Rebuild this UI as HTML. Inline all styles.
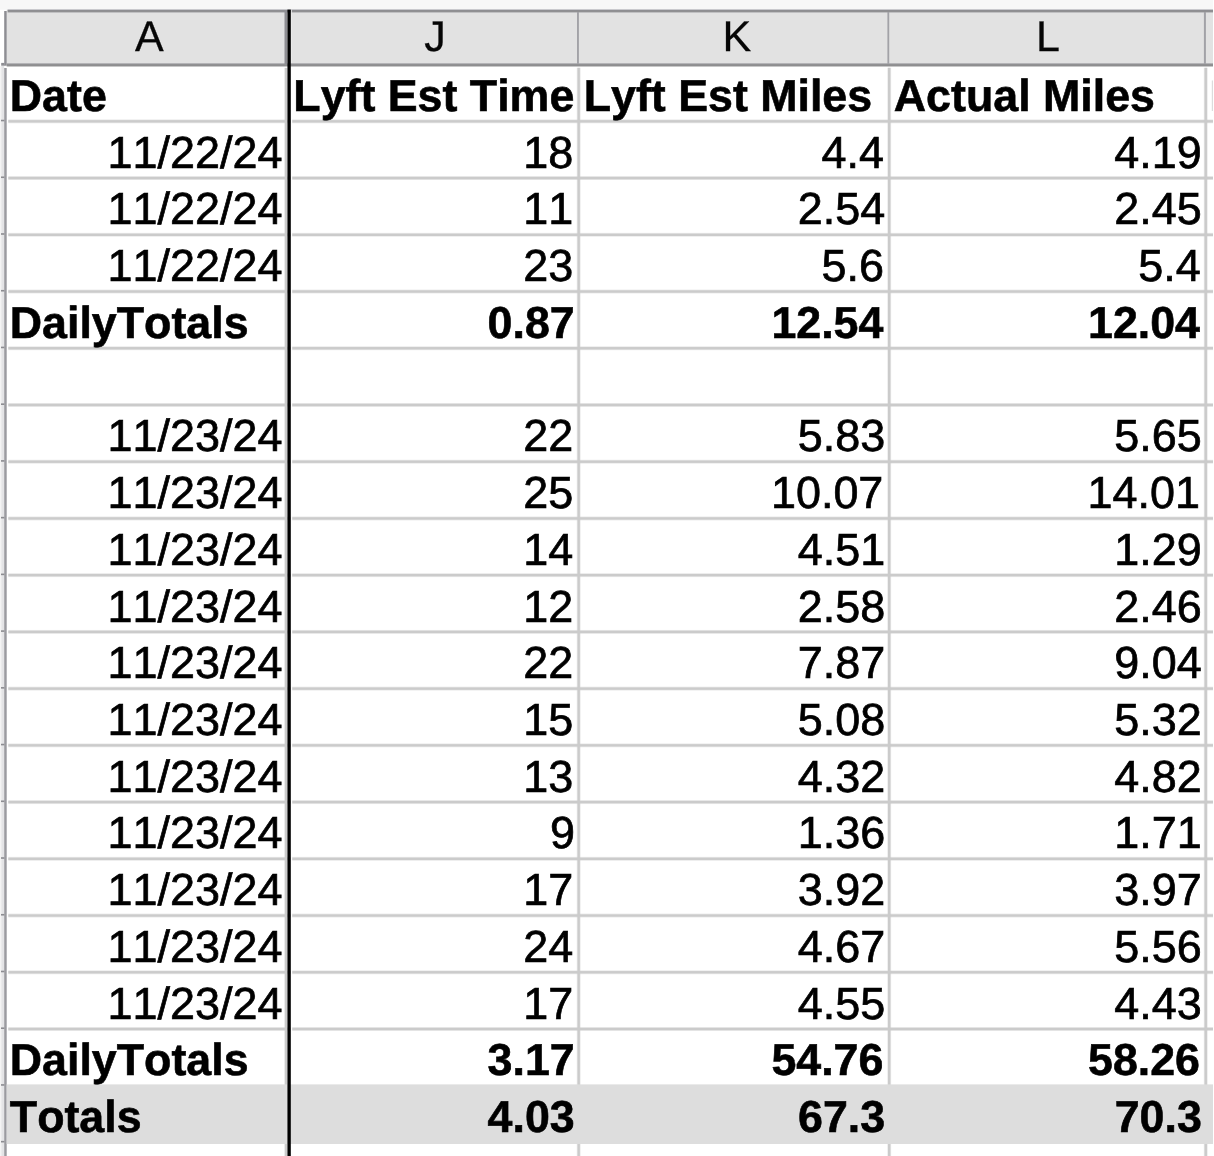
<!DOCTYPE html>
<html lang="en">
<head>
<meta charset="utf-8">
<title>Sheet</title>
<style>
html,body{margin:0;padding:0;}
body{width:1214px;height:1156px;overflow:hidden;background:#fff;position:relative;
 font-family:"Liberation Sans",Arial,sans-serif;color:#000;text-rendering:geometricPrecision;font-kerning:none;}
.abs,.abs *{position:absolute;}
.abs{left:0;top:0;width:1214px;height:1156px;overflow:hidden;}
.c{white-space:nowrap;font-size:44.95px;line-height:44.95px;height:44.95px;}
.c{-webkit-text-stroke:0.7px #000;}
.b{font-weight:bold;font-size:44.75px;-webkit-text-stroke:0.6px #000;}
.r{text-align:right;}
.hl{font-size:43.0px;line-height:43.0px;height:43.0px;white-space:nowrap;color:#060606;-webkit-text-stroke:0.3px #060606;}
.g{background:#cbcbcb;}
</style>
</head>
<body>
<div class="abs">
<svg width="1214" height="1156" viewBox="0 0 1214 1156" style="left:0;top:0;" shape-rendering="geometricPrecision">
<rect x="0.00" y="0.00" width="1214.00" height="9.70" fill="#f7f7f7"/>
<rect x="6.70" y="9.70" width="1206.30" height="56.80" fill="#e2e2e2"/>
<rect x="7.60" y="9.00" width="1205.40" height="1.00" fill="#c9c9cd"/>
<rect x="7.60" y="10.00" width="1205.40" height="1.00" fill="#8e8e92"/>
<rect x="7.60" y="11.00" width="1205.40" height="1.00" fill="#909092"/>
<rect x="7.60" y="12.00" width="1205.40" height="1.00" fill="#c0c0c2"/>
<rect x="6.70" y="63.00" width="1206.30" height="1.00" fill="#b4b4b7"/>
<rect x="6.70" y="64.00" width="1206.30" height="1.00" fill="#919193"/>
<rect x="6.70" y="65.00" width="1206.30" height="1.00" fill="#8e8e90"/>
<rect x="6.70" y="66.00" width="1206.30" height="1.00" fill="#c8c8c8"/>
<rect x="0.00" y="66.00" width="4.20" height="1090.00" fill="#e4e4e6"/>
<rect x="0.00" y="66.00" width="1.40" height="1090.00" fill="#f4f4f4"/>
<rect x="4.20" y="11.00" width="2.50" height="54.70" fill="#8e8e93"/>
<rect x="4.20" y="68.00" width="2.50" height="1088.00" fill="#9b9ba0"/>
<rect x="1.20" y="62.90" width="3.30" height="2.80" fill="#8e8e93"/>
<rect x="284.50" y="11.00" width="2.70" height="53.00" fill="#8e8e93"/>
<rect x="577.00" y="12.00" width="1.90" height="52.00" fill="#a2a2a7"/>
<rect x="887.40" y="12.00" width="1.80" height="52.00" fill="#a2a2a7"/>
<rect x="1203.90" y="12.00" width="2.00" height="52.00" fill="#a2a2a7"/>
<rect x="8.30" y="119.38" width="1205.70" height="3.90" fill="#cbcbcb" opacity="0.4"/>
<rect x="8.30" y="120.13" width="1205.70" height="2.40" fill="#cbcbcb"/>
<rect x="8.30" y="176.11" width="1205.70" height="3.90" fill="#cbcbcb" opacity="0.4"/>
<rect x="8.30" y="176.86" width="1205.70" height="2.40" fill="#cbcbcb"/>
<rect x="8.30" y="232.84" width="1205.70" height="3.90" fill="#cbcbcb" opacity="0.4"/>
<rect x="8.30" y="233.59" width="1205.70" height="2.40" fill="#cbcbcb"/>
<rect x="8.30" y="289.57" width="1205.70" height="3.90" fill="#cbcbcb" opacity="0.4"/>
<rect x="8.30" y="290.32" width="1205.70" height="2.40" fill="#cbcbcb"/>
<rect x="8.30" y="346.30" width="1205.70" height="3.90" fill="#cbcbcb" opacity="0.4"/>
<rect x="8.30" y="347.05" width="1205.70" height="2.40" fill="#cbcbcb"/>
<rect x="8.30" y="403.03" width="1205.70" height="3.90" fill="#cbcbcb" opacity="0.4"/>
<rect x="8.30" y="403.78" width="1205.70" height="2.40" fill="#cbcbcb"/>
<rect x="8.30" y="459.76" width="1205.70" height="3.90" fill="#cbcbcb" opacity="0.4"/>
<rect x="8.30" y="460.51" width="1205.70" height="2.40" fill="#cbcbcb"/>
<rect x="8.30" y="516.49" width="1205.70" height="3.90" fill="#cbcbcb" opacity="0.4"/>
<rect x="8.30" y="517.24" width="1205.70" height="2.40" fill="#cbcbcb"/>
<rect x="8.30" y="573.22" width="1205.70" height="3.90" fill="#cbcbcb" opacity="0.4"/>
<rect x="8.30" y="573.97" width="1205.70" height="2.40" fill="#cbcbcb"/>
<rect x="8.30" y="629.95" width="1205.70" height="3.90" fill="#cbcbcb" opacity="0.4"/>
<rect x="8.30" y="630.70" width="1205.70" height="2.40" fill="#cbcbcb"/>
<rect x="8.30" y="686.68" width="1205.70" height="3.90" fill="#cbcbcb" opacity="0.4"/>
<rect x="8.30" y="687.43" width="1205.70" height="2.40" fill="#cbcbcb"/>
<rect x="8.30" y="743.41" width="1205.70" height="3.90" fill="#cbcbcb" opacity="0.4"/>
<rect x="8.30" y="744.16" width="1205.70" height="2.40" fill="#cbcbcb"/>
<rect x="8.30" y="800.14" width="1205.70" height="3.90" fill="#cbcbcb" opacity="0.4"/>
<rect x="8.30" y="800.89" width="1205.70" height="2.40" fill="#cbcbcb"/>
<rect x="8.30" y="856.87" width="1205.70" height="3.90" fill="#cbcbcb" opacity="0.4"/>
<rect x="8.30" y="857.62" width="1205.70" height="2.40" fill="#cbcbcb"/>
<rect x="8.30" y="913.60" width="1205.70" height="3.90" fill="#cbcbcb" opacity="0.4"/>
<rect x="8.30" y="914.35" width="1205.70" height="2.40" fill="#cbcbcb"/>
<rect x="8.30" y="970.33" width="1205.70" height="3.90" fill="#cbcbcb" opacity="0.4"/>
<rect x="8.30" y="971.08" width="1205.70" height="2.40" fill="#cbcbcb"/>
<rect x="8.30" y="1027.06" width="1205.70" height="3.90" fill="#cbcbcb" opacity="0.4"/>
<rect x="8.30" y="1027.81" width="1205.70" height="2.40" fill="#cbcbcb"/>
<rect x="284.63" y="67.80" width="2.87" height="1088.20" fill="#cbcbcb"/>
<rect x="576.73" y="67.80" width="3.90" height="1088.20" fill="#cbcbcb" opacity="0.4"/>
<rect x="577.48" y="67.80" width="2.40" height="1088.20" fill="#cbcbcb"/>
<rect x="887.25" y="67.80" width="3.90" height="1088.20" fill="#cbcbcb" opacity="0.4"/>
<rect x="888.00" y="67.80" width="2.40" height="1088.20" fill="#cbcbcb"/>
<rect x="1203.80" y="67.80" width="3.90" height="1088.20" fill="#cbcbcb" opacity="0.4"/>
<rect x="1204.55" y="67.80" width="2.40" height="1088.20" fill="#cbcbcb"/>
<rect x="290.80" y="67.00" width="1.40" height="1089.00" fill="#fff"/>
<rect x="6.70" y="1084.39" width="1207.30" height="59.63" fill="#dddddd"/>
<rect x="1.00" y="119.73" width="3.40" height="1.60" fill="#8c8c91"/>
<rect x="1.00" y="176.46" width="3.40" height="1.60" fill="#8c8c91"/>
<rect x="1.00" y="233.19" width="3.40" height="1.60" fill="#8c8c91"/>
<rect x="1.00" y="289.92" width="3.40" height="1.60" fill="#8c8c91"/>
<rect x="1.00" y="346.65" width="3.40" height="1.60" fill="#8c8c91"/>
<rect x="1.00" y="403.38" width="3.40" height="1.60" fill="#8c8c91"/>
<rect x="1.00" y="460.11" width="3.40" height="1.60" fill="#8c8c91"/>
<rect x="1.00" y="516.84" width="3.40" height="1.60" fill="#8c8c91"/>
<rect x="1.00" y="573.57" width="3.40" height="1.60" fill="#8c8c91"/>
<rect x="1.00" y="630.30" width="3.40" height="1.60" fill="#8c8c91"/>
<rect x="1.00" y="687.03" width="3.40" height="1.60" fill="#8c8c91"/>
<rect x="1.00" y="743.76" width="3.40" height="1.60" fill="#8c8c91"/>
<rect x="1.00" y="800.49" width="3.40" height="1.60" fill="#8c8c91"/>
<rect x="1.00" y="857.22" width="3.40" height="1.60" fill="#8c8c91"/>
<rect x="1.00" y="913.95" width="3.40" height="1.60" fill="#8c8c91"/>
<rect x="1.00" y="970.68" width="3.40" height="1.60" fill="#8c8c91"/>
<rect x="1.00" y="1027.41" width="3.40" height="1.60" fill="#8c8c91"/>
<rect x="1.00" y="1084.14" width="3.40" height="1.60" fill="#8c8c91"/>
<rect x="1.00" y="1140.87" width="3.40" height="1.60" fill="#8c8c91"/>
<rect x="290.80" y="9.70" width="1.00" height="53.20" fill="#ececec"/>
<rect x="287.45" y="9.60" width="3.35" height="1146.40" fill="#000"/>
<rect x="1211.80" y="80.50" width="1.20" height="30.50" fill="#dcdcdc"/>
<rect x="1213.00" y="0.00" width="1.00" height="1156.00" fill="#fff"/>
</svg>
<div class="hl" style="left:135.02px;top:13px;line-height:48px;height:48px;">A</div>
<div class="hl" style="left:424.33px;top:13px;line-height:48px;height:48px;">J</div>
<div class="hl" style="left:722.47px;top:13px;line-height:48px;height:48px;">K</div>
<div class="hl" style="left:1036.07px;top:13px;line-height:48px;height:48px;">L</div>
<div class="c b" style="left:9.80px;top:71px;line-height:51px;height:51px;">Date</div>
<div class="c b" style="left:293.30px;top:71px;line-height:51px;height:51px;">Lyft Est Time</div>
<div class="c b" style="left:583.70px;top:71px;line-height:51px;height:51px;">Lyft Est Miles</div>
<div class="c b" style="left:893.80px;top:71px;line-height:51px;height:51px;">Actual Miles</div>
<div class="c r" style="left:9.80px;width:272.70px;top:127px;line-height:51px;height:51px;">11/22/24</div>
<div class="c r" style="left:293.30px;width:279.90px;top:127px;line-height:51px;height:51px;">18</div>
<div class="c r" style="left:583.70px;width:300.40px;top:127px;line-height:51px;height:51px;">4.4</div>
<div class="c r" style="left:893.80px;width:308.00px;top:127px;line-height:51px;height:51px;">4.19</div>
<div class="c r" style="left:9.80px;width:272.70px;top:183px;line-height:51px;height:51px;">11/22/24</div>
<div class="c r" style="left:293.30px;width:279.90px;top:183px;line-height:51px;height:51px;">11</div>
<div class="c r" style="left:583.70px;width:301.50px;top:183px;line-height:51px;height:51px;">2.54</div>
<div class="c r" style="left:893.80px;width:308.00px;top:183px;line-height:51px;height:51px;">2.45</div>
<div class="c r" style="left:9.80px;width:272.70px;top:240px;line-height:51px;height:51px;">11/22/24</div>
<div class="c r" style="left:293.30px;width:279.90px;top:240px;line-height:51px;height:51px;">23</div>
<div class="c r" style="left:583.70px;width:300.40px;top:240px;line-height:51px;height:51px;">5.6</div>
<div class="c r" style="left:893.80px;width:306.90px;top:240px;line-height:51px;height:51px;">5.4</div>
<div class="c b" style="left:9.80px;top:298px;line-height:51px;height:51px;">DailyTotals</div>
<div class="c b r" style="left:293.30px;width:281.40px;top:298px;line-height:51px;height:51px;">0.87</div>
<div class="c b r" style="left:583.70px;width:299.70px;top:298px;line-height:51px;height:51px;">12.54</div>
<div class="c b r" style="left:893.80px;width:306.20px;top:298px;line-height:51px;height:51px;">12.04</div>
<div class="c r" style="left:9.80px;width:272.70px;top:410px;line-height:51px;height:51px;">11/23/24</div>
<div class="c r" style="left:293.30px;width:279.90px;top:410px;line-height:51px;height:51px;">22</div>
<div class="c r" style="left:583.70px;width:301.50px;top:410px;line-height:51px;height:51px;">5.83</div>
<div class="c r" style="left:893.80px;width:308.00px;top:410px;line-height:51px;height:51px;">5.65</div>
<div class="c r" style="left:9.80px;width:272.70px;top:467px;line-height:51px;height:51px;">11/23/24</div>
<div class="c r" style="left:293.30px;width:279.90px;top:467px;line-height:51px;height:51px;">25</div>
<div class="c r" style="left:583.70px;width:299.70px;top:467px;line-height:51px;height:51px;">10.07</div>
<div class="c r" style="left:893.80px;width:306.20px;top:467px;line-height:51px;height:51px;">14.01</div>
<div class="c r" style="left:9.80px;width:272.70px;top:524px;line-height:51px;height:51px;">11/23/24</div>
<div class="c r" style="left:293.30px;width:279.90px;top:524px;line-height:51px;height:51px;">14</div>
<div class="c r" style="left:583.70px;width:301.50px;top:524px;line-height:51px;height:51px;">4.51</div>
<div class="c r" style="left:893.80px;width:308.00px;top:524px;line-height:51px;height:51px;">1.29</div>
<div class="c r" style="left:9.80px;width:272.70px;top:581px;line-height:51px;height:51px;">11/23/24</div>
<div class="c r" style="left:293.30px;width:279.90px;top:581px;line-height:51px;height:51px;">12</div>
<div class="c r" style="left:583.70px;width:301.50px;top:581px;line-height:51px;height:51px;">2.58</div>
<div class="c r" style="left:893.80px;width:308.00px;top:581px;line-height:51px;height:51px;">2.46</div>
<div class="c r" style="left:9.80px;width:272.70px;top:637px;line-height:51px;height:51px;">11/23/24</div>
<div class="c r" style="left:293.30px;width:279.90px;top:637px;line-height:51px;height:51px;">22</div>
<div class="c r" style="left:583.70px;width:301.50px;top:637px;line-height:51px;height:51px;">7.87</div>
<div class="c r" style="left:893.80px;width:308.00px;top:637px;line-height:51px;height:51px;">9.04</div>
<div class="c r" style="left:9.80px;width:272.70px;top:694px;line-height:51px;height:51px;">11/23/24</div>
<div class="c r" style="left:293.30px;width:279.90px;top:694px;line-height:51px;height:51px;">15</div>
<div class="c r" style="left:583.70px;width:301.50px;top:694px;line-height:51px;height:51px;">5.08</div>
<div class="c r" style="left:893.80px;width:308.00px;top:694px;line-height:51px;height:51px;">5.32</div>
<div class="c r" style="left:9.80px;width:272.70px;top:751px;line-height:51px;height:51px;">11/23/24</div>
<div class="c r" style="left:293.30px;width:279.90px;top:751px;line-height:51px;height:51px;">13</div>
<div class="c r" style="left:583.70px;width:301.50px;top:751px;line-height:51px;height:51px;">4.32</div>
<div class="c r" style="left:893.80px;width:308.00px;top:751px;line-height:51px;height:51px;">4.82</div>
<div class="c r" style="left:9.80px;width:272.70px;top:807px;line-height:51px;height:51px;">11/23/24</div>
<div class="c r" style="left:293.30px;width:281.70px;top:807px;line-height:51px;height:51px;">9</div>
<div class="c r" style="left:583.70px;width:301.50px;top:807px;line-height:51px;height:51px;">1.36</div>
<div class="c r" style="left:893.80px;width:308.00px;top:807px;line-height:51px;height:51px;">1.71</div>
<div class="c r" style="left:9.80px;width:272.70px;top:864px;line-height:51px;height:51px;">11/23/24</div>
<div class="c r" style="left:293.30px;width:279.90px;top:864px;line-height:51px;height:51px;">17</div>
<div class="c r" style="left:583.70px;width:301.50px;top:864px;line-height:51px;height:51px;">3.92</div>
<div class="c r" style="left:893.80px;width:308.00px;top:864px;line-height:51px;height:51px;">3.97</div>
<div class="c r" style="left:9.80px;width:272.70px;top:921px;line-height:51px;height:51px;">11/23/24</div>
<div class="c r" style="left:293.30px;width:279.90px;top:921px;line-height:51px;height:51px;">24</div>
<div class="c r" style="left:583.70px;width:301.50px;top:921px;line-height:51px;height:51px;">4.67</div>
<div class="c r" style="left:893.80px;width:308.00px;top:921px;line-height:51px;height:51px;">5.56</div>
<div class="c r" style="left:9.80px;width:272.70px;top:978px;line-height:51px;height:51px;">11/23/24</div>
<div class="c r" style="left:293.30px;width:279.90px;top:978px;line-height:51px;height:51px;">17</div>
<div class="c r" style="left:583.70px;width:301.50px;top:978px;line-height:51px;height:51px;">4.55</div>
<div class="c r" style="left:893.80px;width:308.00px;top:978px;line-height:51px;height:51px;">4.43</div>
<div class="c b" style="left:9.80px;top:1035px;line-height:51px;height:51px;">DailyTotals</div>
<div class="c b r" style="left:293.30px;width:281.40px;top:1035px;line-height:51px;height:51px;">3.17</div>
<div class="c b r" style="left:583.70px;width:299.70px;top:1035px;line-height:51px;height:51px;">54.76</div>
<div class="c b r" style="left:893.80px;width:306.20px;top:1035px;line-height:51px;height:51px;">58.26</div>
<div class="c b" style="left:9.80px;top:1092px;line-height:51px;height:51px;">Totals</div>
<div class="c b r" style="left:293.30px;width:281.40px;top:1092px;line-height:51px;height:51px;">4.03</div>
<div class="c b r" style="left:583.70px;width:301.50px;top:1092px;line-height:51px;height:51px;">67.3</div>
<div class="c b r" style="left:893.80px;width:308.00px;top:1092px;line-height:51px;height:51px;">70.3</div>
</div>
</body>
</html>
